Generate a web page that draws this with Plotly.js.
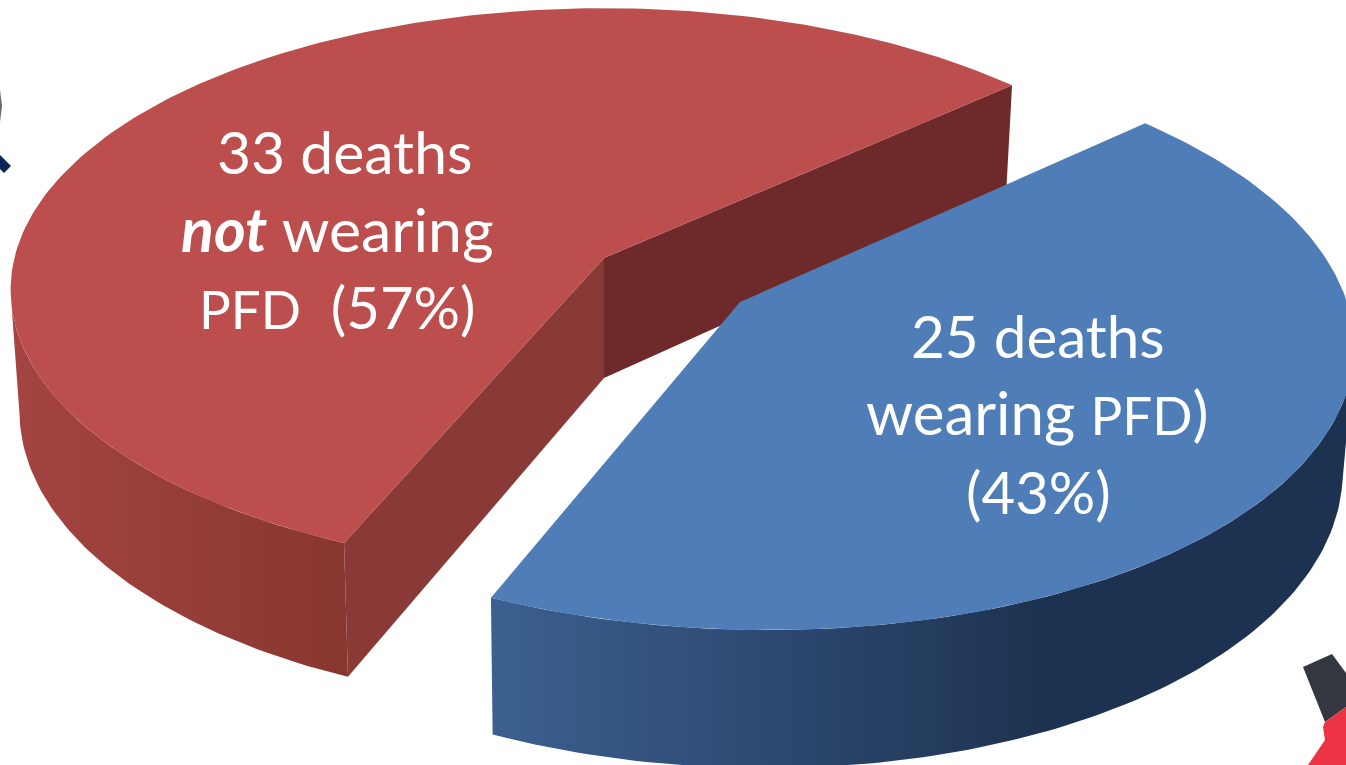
<!DOCTYPE html>
<html>
<head>
<meta charset="utf-8">
<script src="https://cdn.plot.ly/plotly-3.0.1.min.js"></script>
<style>html,body{margin:0;padding:0;background:#fff;overflow:hidden}#chart{width:1346px;height:765px}</style>
</head>
<body>
<div id="chart"></div>
<script>
// Data
const categories = ["not wearing PFD", "wearing PFD"];
const deaths = [33, 25];
const redLabelLines = ["33 deaths", "<b><i>not</i></b> wearing", "<span style=\"font-size:53px\">PFD</span>  (57%)"];
const blueLabelLines = ["25 deaths", "wearing <span style=\"font-size:53px\">PFD</span>)", "(43%)"];

// Styles
const topColors = ["#BC4F4E", "#4E7DB8"];
const sideLight = ["#A54442", "#3C6090"];
const sideDark = ["#87372F", "#1D3250"];
const innerFaces = ["#6E2A2A", "#893A36"];

// Projection of the tilted pie onto the page
const view = {cx: 604, cy: 258, A: 589.6, B: 278, k: 0.113, depth: 120, taper: 0.985};
const explode = {u: 0.2266, v: 0.1555};
const startDeg = -41.9;

function project(u, v, lower) {
  const s = 1 - view.k * v;
  const dx = view.A * u / s;
  const dy = view.B * v / s;
  return lower ? [view.cx + dx * view.taper, view.cy + dy + view.depth / s]
               : [view.cx + dx, view.cy + dy];
}
function arc(c, a0, a1, lower, radiusAt) {
  const pts = [];
  const n = Math.max(2, Math.ceil(Math.abs(a1 - a0)));
  for (let i = 0; i <= n; i++) {
    const deg = a0 + (a1 - a0) * i / n;
    const a = deg * Math.PI / 180;
    const r = radiusAt ? radiusAt(deg) : 1;
    pts.push(project(c.u + r * Math.cos(a), c.v + r * Math.sin(a), lower));
  }
  return pts;
}
function poly(pts, fillProps, name) {
  return Object.assign({
    type: "scatter", mode: "lines", name: name, hoverinfo: "name",
    x: pts.map(p => p[0]), y: pts.map(p => p[1]),
    fill: "toself", line: {width: 0}, showlegend: false
  }, fillProps);
}
function gradient(c0, c1, start, stop) {
  return {type: "horizontal", start: start, stop: stop, colorscale: [[0, c0], [1, c1]]};
}

const total = deaths.reduce((a, b) => a + b, 0);
const sweep = deaths.map(d => d / total * 360);
const centerRed = {u: 0, v: 0};
const centerBlue = {u: explode.u, v: explode.v};

// Red slice runs anticlockwise on screen from startDeg; blue runs clockwise from it
const redEnd = startDeg - sweep[0];
const blueEnd = startDeg + sweep[1];
// The blue rim bulges very slightly in the source picture
const blueRadius = deg => 1 + 0.015 * Math.sin(Math.PI * (deg - startDeg) / sweep[1]);

const traces = [];
// Red walls and top
{
  const c = centerRed;
  const a1 = redEnd;
  const wallStart = -187;
  const wallArc = arc(c, wallStart, a1, false).concat(arc(c, wallStart, a1, true).reverse());
  traces.push(poly(wallArc, {fillgradient: gradient(sideLight[0], sideDark[0], 10, 350)}, categories[0]));
  const vT = project(c.u, c.v, false), vB = project(c.u, c.v, true);
  const rad = a => [c.u + Math.cos(a * Math.PI / 180), c.v + Math.sin(a * Math.PI / 180)];
  const p1 = rad(startDeg), p2 = rad(a1);
  traces.push(poly([vT, project(p1[0], p1[1], false), project(p1[0], p1[1], true), vB],
                   {fillcolor: innerFaces[0]}, categories[0]));
  traces.push(poly([vT, project(p2[0], p2[1], false), project(p2[0], p2[1], true), vB],
                   {fillcolor: innerFaces[1]}, categories[0]));
  traces.push(poly([vT].concat(arc(c, startDeg, a1, false)), {fillcolor: topColors[0]}, categories[0]));
}
// Blue walls and top
{
  const c = centerBlue;
  const wallStart = 12;
  const wallArc = arc(c, blueEnd, wallStart, false, blueRadius)
    .concat(arc(c, blueEnd, wallStart, true, blueRadius).reverse());
  traces.push(poly(wallArc, {fillgradient: gradient(sideLight[1], sideDark[1], 490, 1050)}, categories[1]));
  traces.push(poly([project(c.u, c.v, false)].concat(arc(c, startDeg, blueEnd, false, blueRadius)),
                   {fillcolor: topColors[1]}, categories[1]));
}

// Cropped-off neighbouring artwork at the picture edges
const shapes = [
  {type: "path", xref: "x", yref: "y", path: "M0,155 L11,166 L4,173 L0,169 Z", fillcolor: "#0B2358", line: {width: 0}},
  {type: "path", xref: "x", yref: "y", path: "M0,90 L2,106 L0,122 Z", fillcolor: "#6d6466", line: {width: 0}},
  {type: "path", xref: "x", yref: "y", path: "M1303,667 L1332,654 L1346,673 L1346,707 L1325,722 Z", fillcolor: "#33373F", line: {width: 0}},
  {type: "path", xref: "x", yref: "y", path: "M1325,722 L1346,707 L1346,765 L1308,765 L1325,740 L1323,727 Z", fillcolor: "#EC3345", line: {width: 0}}
];

const fontFamily = "Lato, 'Open Sans', sans-serif";
const lineSpec = [
  {t: redLabelLines[0], x: 344, y: 151, size: 58.8},
  {t: redLabelLines[1], x: 337.5, y: 228, size: 60.8},
  {t: redLabelLines[2], x: 337.5, y: 306, size: 58},
  {t: blueLabelLines[0], x: 1038, y: 335, size: 58.4},
  {t: blueLabelLines[1], x: 1037, y: 412, size: 60},
  {t: blueLabelLines[2], x: 1038, y: 491, size: 58}
];
const annotations = lineSpec.map(l => ({
  x: l.x, y: l.y, text: l.t, xref: "x", yref: "y", showarrow: false, align: "center",
  xanchor: "center", yanchor: "middle",
  font: {family: fontFamily, size: l.size, color: "#FFFFFF"}
}));

Plotly.newPlot("chart", traces, {
  width: 1346, height: 765,
  margin: {l: 0, r: 0, t: 0, b: 0},
  paper_bgcolor: "#FFFFFF", plot_bgcolor: "#FFFFFF",
  xaxis: {range: [0, 1346], visible: false, fixedrange: true},
  yaxis: {range: [765, 0], visible: false, fixedrange: true},
  showlegend: false, shapes: shapes, annotations: annotations
}, {displayModeBar: false, staticPlot: true});
</script>
</body>
</html>
